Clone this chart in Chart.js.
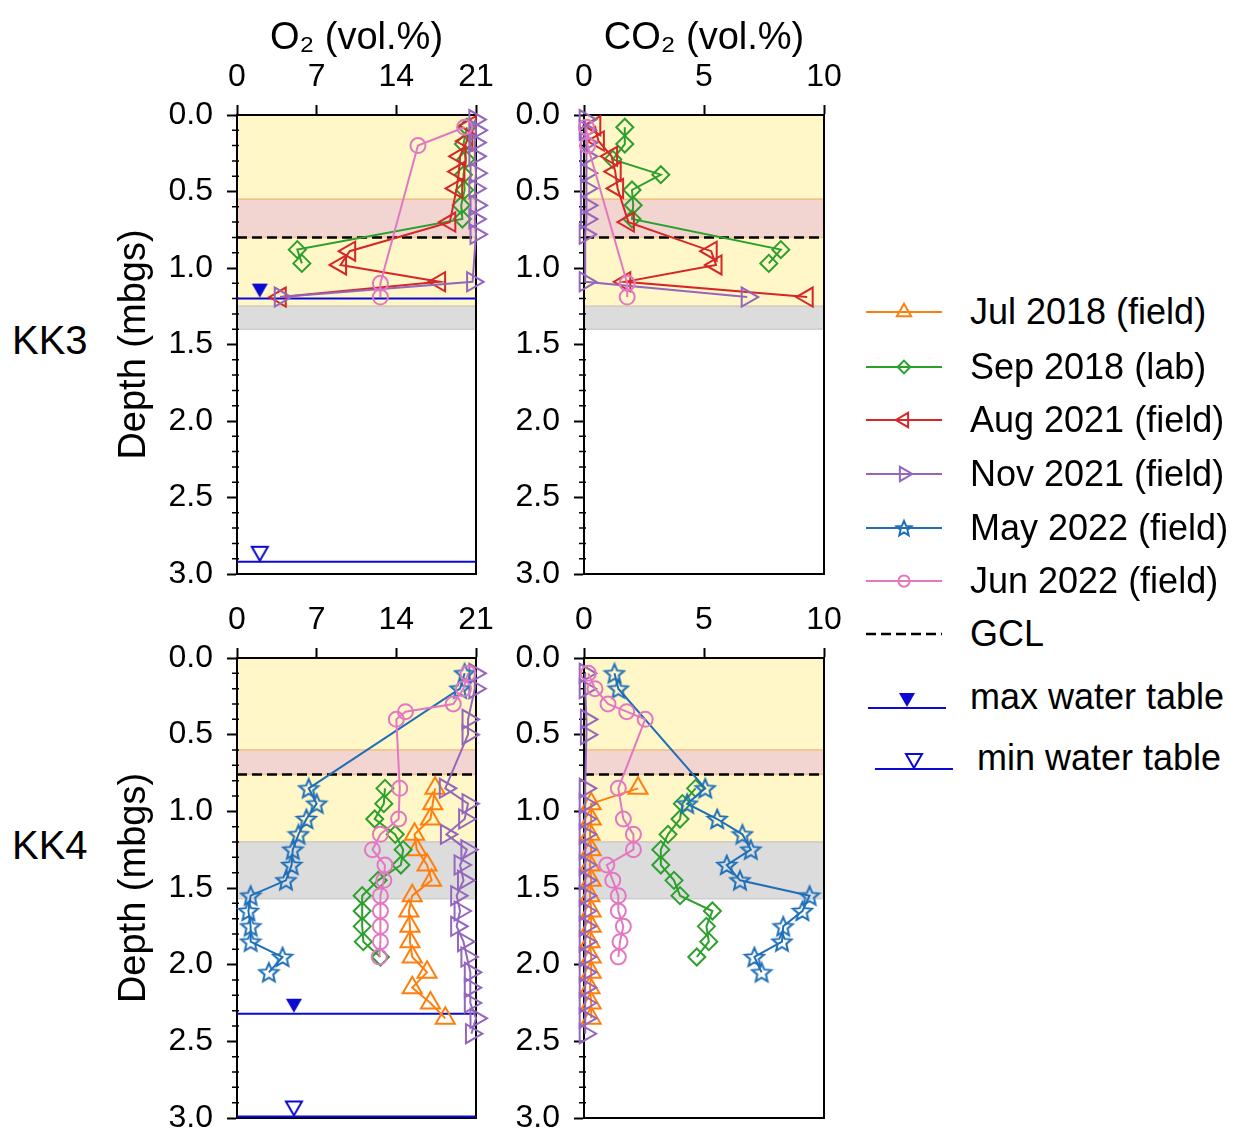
<!DOCTYPE html>
<html>
<head>
<meta charset="utf-8">
<script src="https://cdn.jsdelivr.net/npm/chart.js@4.4.1/dist/chart.umd.min.js"></script>
<style>
  body { margin: 0; background: #fff; width: 1245px; height: 1134px; position: relative; overflow: hidden;
         font-family: 'Liberation Sans', Arial, Helvetica, sans-serif; color: #000; }
  canvas.panel { position: absolute; }
  .site { position: absolute; left: 12px; font-size: 40px; line-height: 40px; }
  .leg { position: absolute; height: 40px; display: flex; align-items: center; font-size: 36px; white-space: nowrap; }
  .leg canvas { margin-right: 24px; }
</style>
</head>
<body>
<div class="site" style="top:320px">KK3</div>
<div class="site" style="top:825px">KK4</div>
<canvas class="panel" id="kk3o2"  width="406" height="610" style="left:100px;top:0px"></canvas>
<canvas class="panel" id="kk3co2" width="354" height="610" style="left:500px;top:0px"></canvas>
<canvas class="panel" id="kk4o2"  width="406" height="570" style="left:100px;top:584px"></canvas>
<canvas class="panel" id="kk4co2" width="354" height="570" style="left:500px;top:584px"></canvas>
<div id="legend"></div>
<script>
// ---------- axes ----------
const o2Range = [0, 21];
const o2Step = 7;
const co2Range = [0, 10];
const co2Step = 5;
const depthRange = [0, 3];
const depthStep = 0.5;
const depthMinorStep = 0.1;

// ---------- series ----------
const seriesKeys = ['jul18', 'sep18', 'aug21', 'nov21', 'may22', 'jun22'];
const seriesLabels = ['Jul 2018 (field)', 'Sep 2018 (lab)', 'Aug 2021 (field)',
                      'Nov 2021 (field)', 'May 2022 (field)', 'Jun 2022 (field)'];

// KK3
const kk3Sep18Depth = [0.08, 0.19, 0.29, 0.39, 0.49, 0.59, 0.68, 0.88, 0.97];
const kk3Sep18O2    = [20.2, 19.9, 20.1, 19.9, 20.0, 19.7, 19.8, 5.3, 5.7];
const kk3Sep18CO2   = [1.7, 1.7, 1.2, 3.2, 2.0, 2.05, 2.0, 8.2, 7.7];

const kk3Aug21Depth = [0.07, 0.17, 0.27, 0.37, 0.48, 0.70, 0.89, 0.98, 1.09, 1.19];
const kk3Aug21O2    = [20.5, 20.2, 19.6, 19.5, 19.3, 18.7, 9.9, 9.1, 17.8, 3.8];
const kk3Aug21CO2   = [0.45, 0.6, 1.15, 1.3, 1.4, 1.85, 5.3, 5.5, 1.7, 9.3];

const kk3Nov21Depth = [0.03, 0.10, 0.18, 0.27, 0.38, 0.48, 0.59, 0.68, 0.78, 1.09, 1.19];
const kk3Nov21O2    = [20.9, 21.0, 20.9, 20.9, 21.0, 20.9, 21.0, 20.9, 21.0, 20.7, 3.8];
const kk3Nov21CO2   = [0.05, 0.05, 0.1, 0.1, 0.1, 0.1, 0.1, 0.1, 0.05, 0.05, 6.8];

const kk3Jun22Depth = [0.08, 0.20, 1.10, 1.19];
const kk3Jun22O2    = [20.0, 15.9, 12.6, 12.6];
const kk3Jun22CO2   = [0.1, 0.15, 1.8, 1.8];

// KK4
const kk4Jul18Depth = [0.85, 0.95, 1.05, 1.15, 1.25, 1.35, 1.45, 1.55, 1.65, 1.75, 1.85, 1.95, 2.05, 2.15, 2.25, 2.35];
const kk4Jul18O2    = [17.4, 17.2, 17.0, 15.6, 15.8, 16.7, 17.1, 15.4, 15.1, 15.2, 15.2, 15.4, 16.7, 15.4, 17.0, 18.3];
const kk4Jul18CO2   = [2.25, 0.3, 0.3, 0.25, 0.3, 0.25, 0.3, 0.25, 0.3, 0.3, 0.25, 0.3, 0.3, 0.25, 0.3, 0.3];

const kk4Sep18Depth = [0.85, 0.95, 1.05, 1.15, 1.25, 1.35, 1.45, 1.55, 1.65, 1.75, 1.85, 1.95];
const kk4Sep18O2    = [13.0, 12.9, 12.1, 13.9, 14.6, 14.4, 12.4, 11.0, 11.0, 11.0, 11.1, 12.6];
const kk4Sep18CO2   = [4.65, 4.1, 4.0, 3.5, 3.2, 3.2, 3.75, 4.0, 5.35, 5.1, 5.2, 4.7];

const kk4Nov21Depth = [0.10, 0.20, 0.40, 0.50, 0.85, 0.95, 1.05, 1.15, 1.25, 1.35, 1.45, 1.55, 1.65, 1.75, 1.85, 1.95, 2.05, 2.15, 2.25, 2.35, 2.45];
const kk4Nov21O2    = [20.9, 20.9, 20.3, 20.3, 18.3, 20.3, 20.0, 18.4, 20.2, 19.6, 19.9, 19.3, 19.6, 19.3, 19.9, 20.2, 20.5, 20.5, 20.5, 21.0, 20.6];
const kk4Nov21CO2   = [0.05, 0.05, 0.1, 0.1, 0.05, 0.05, 0.05, 0.05, 0.05, 0.05, 0.05, 0.05, 0.05, 0.05, 0.05, 0.05, 0.05, 0.05, 0.05, 0.05, 0.05];

const kk4May22Depth = [0.10, 0.20, 0.85, 0.95, 1.05, 1.15, 1.25, 1.35, 1.45, 1.55, 1.65, 1.75, 1.85, 1.95, 2.05];
const kk4May22O2    = [20.0, 19.6, 6.3, 7.0, 6.1, 5.4, 4.9, 4.8, 4.3, 1.2, 1.0, 1.2, 1.2, 4.0, 2.8];
const kk4May22CO2   = [1.27, 1.43, 5.05, 4.3, 5.55, 6.6, 6.95, 5.95, 6.5, 9.4, 9.1, 8.3, 8.25, 7.1, 7.4];

const kk4Jun22Depth = [0.10, 0.20, 0.30, 0.35, 0.40, 0.85, 1.05, 1.15, 1.25, 1.35, 1.45, 1.55, 1.65, 1.75, 1.85, 1.95];
const kk4Jun22O2    = [20.3, 19.9, 19.0, 14.8, 14.0, 14.3, 14.2, 12.6, 11.9, 13.0, 12.9, 12.6, 12.6, 12.6, 12.6, 12.5];
const kk4Jun22CO2   = [0.18, 0.46, 1.0, 1.78, 2.55, 1.43, 1.64, 2.06, 2.06, 0.95, 1.2, 1.43, 1.43, 1.64, 1.5, 1.43];

// layers, GCL and water table (depth in mbgs)
const kk3LayerTop    = [0, 0.55, 0.80, 1.25];
const kk3LayerBottom = [0.55, 0.80, 1.25, 1.40];
const kk3LayerKind   = ['cover', 'liner', 'cover', 'waste'];
const kk4LayerTop    = [0, 0.60, 0.76, 1.20];
const kk4LayerBottom = [0.60, 0.76, 1.20, 1.57];
const kk4LayerKind   = ['cover', 'liner', 'cover', 'waste'];
const kk3Gcl = 0.80;
const kk4Gcl = 0.76;
const kk3WaterDepth = [1.20, 2.92];   // max, min
const kk3WaterMarkO2 = [2, 2];
const kk4WaterDepth = [2.32, 2.99];
const kk4WaterMarkO2 = [5, 5];

// ---------- styles ----------
const FONT = "'Liberation Sans', Arial, Helvetica, sans-serif";
Chart.defaults.font.family = FONT;
Chart.defaults.color = '#000';

const seriesColor = { jul18: '#ff7f0e', sep18: '#2ca02c', aug21: '#d62728',
                      nov21: '#9467bd', may22: '#1f6fb8', jun22: '#e377c2' };
const waterColor = '#0a0ad2';
const layerFill = { cover: '#fff7c8', liner: '#f2d5d0', waste: '#dcdcdc' };
const layerEdge = { cover: 'rgba(243,196,140,0.8)', liner: 'rgba(243,190,130,0.9)', waste: 'rgba(200,200,200,0.8)' };

function starImage(color, r) {
  const s = Math.ceil(2 * r + 4);
  const c = document.createElement('canvas');
  c.width = s; c.height = s;
  const g = c.getContext('2d');
  g.strokeStyle = color; g.lineWidth = 2;
  g.beginPath();
  for (let i = 0; i < 10; i++) {
    const rr = i % 2 ? r * 0.45 : r;
    const a = -Math.PI / 2 + i * Math.PI / 5;
    const px = s / 2 + rr * Math.cos(a), py = s / 2 + rr * Math.sin(a) + 0.8;
    if (i) g.lineTo(px, py); else g.moveTo(px, py);
  }
  g.closePath(); g.stroke();
  return c;
}

// triangle sitting on top of the water line (image is centred on the line)
function waterMarkImage(filled) {
  const c = document.createElement('canvas');
  c.width = 20; c.height = 36;
  const g = c.getContext('2d');
  g.beginPath();
  g.moveTo(2, 3); g.lineTo(18, 3); g.lineTo(10, 17); g.closePath();
  if (filled) { g.fillStyle = waterColor; g.fill(); }
  else { g.strokeStyle = waterColor; g.lineWidth = 2; g.stroke(); }
  return c;
}

const markerStyle = {
  jul18: { shape: 'triangle', rotation: 0, radius: 11, order: 8 },
  sep18: { shape: 'rectRot', rotation: 0, radius: 8.5, order: 7 },
  aug21: { shape: 'triangle', rotation: 270, radius: 11, order: 6 },
  nov21: { shape: 'triangle', rotation: 90, radius: 11, order: 5 },
  may22: { shape: starImage(seriesColor.may22, 10), rotation: 0, radius: 10, order: 4 },
  jun22: { shape: 'circle', rotation: 0, radius: 7.5, order: 3 },
};
const waterImgs = [waterMarkImage(true), waterMarkImage(false)];

function pts(depth, vals) {
  return depth.map((d, i) => ({ x: vals[i], y: d }));
}

function framePlugin(layers) {
  return {
    id: 'frame',
    beforeDatasetsDraw(chart) {
      const { ctx, chartArea: a, scales: { y } } = chart;
      ctx.save();
      layers.top.forEach((t, i) => {
        const y0 = y.getPixelForValue(t), y1 = y.getPixelForValue(layers.bottom[i]);
        const kind = layers.kind[i];
        ctx.fillStyle = layerFill[kind];
        ctx.fillRect(a.left, y0, a.right - a.left, y1 - y0);
        ctx.strokeStyle = layerEdge[kind];
        ctx.lineWidth = 1.5;
        ctx.beginPath();
        ctx.moveTo(a.left, y0); ctx.lineTo(a.right, y0);
        ctx.moveTo(a.left, y1); ctx.lineTo(a.right, y1);
        ctx.stroke();
      });
      // minor depth ticks
      ctx.strokeStyle = '#000';
      ctx.lineWidth = 1.5;
      ctx.beginPath();
      const n = Math.round((depthRange[1] - depthRange[0]) / depthMinorStep);
      const every = Math.round(depthStep / depthMinorStep);
      for (let i = 0; i <= n; i++) {
        if (i % every === 0) continue;
        const py = y.getPixelForValue(depthRange[0] + i * depthMinorStep);
        ctx.moveTo(a.left - 5, py); ctx.lineTo(a.left + 2, py);
      }
      ctx.stroke();
      ctx.lineWidth = 2;
      ctx.strokeRect(a.left, a.top, a.right - a.left, a.bottom - a.top);
      ctx.restore();
    }
  };
}

function makePanel(id, p) {
  const [xMin, xMax] = p.xRange;
  const datasets = [];
  datasets.push({
    label: 'GCL', data: [{ x: xMin, y: p.gcl }, { x: xMax, y: p.gcl }],
    showLine: true, borderColor: '#000', borderWidth: 2.5, borderDash: [10, 5],
    pointRadius: 0, order: 20, clip: false
  });
  if (p.water) {
    p.water.depth.forEach((d, i) => {
      datasets.push({
        label: i ? 'min water table' : 'max water table',
        data: [{ x: xMin, y: d }, { x: xMax, y: d }],
        showLine: true, borderColor: waterColor, borderWidth: 2, pointRadius: 0, order: 18, clip: false
      });
      datasets.push({
        label: 'marker', data: [{ x: p.water.markX[i], y: d }],
        showLine: false, pointStyle: waterImgs[i], pointRadius: 10, order: 18, clip: false
      });
    });
  }
  p.series.forEach(([key, depth, vals]) => {
    const st = markerStyle[key];
    datasets.push({
      label: seriesLabels[seriesKeys.indexOf(key)],
      data: pts(depth, vals),
      showLine: true,
      borderColor: seriesColor[key], borderWidth: 2,
      pointStyle: st.shape, pointRotation: st.rotation, pointRadius: st.radius,
      pointBorderWidth: 2, pointBorderColor: seriesColor[key],
      pointBackgroundColor: 'rgba(0,0,0,0)',
      order: st.order, clip: false
    });
  });

  const tickFont = { size: 32, family: FONT };
  const titleFont = { size: 38, family: FONT };
  new Chart(document.getElementById(id), {
    type: 'scatter',
    data: { datasets },
    options: {
      responsive: false, animation: false, devicePixelRatio: 1, events: [],
      layout: { padding: { left: 0, top: 0, right: 30, bottom: 36 } },
      plugins: { legend: { display: false }, tooltip: { enabled: false } },
      scales: {
        x: {
          type: 'linear', position: 'top', min: xMin, max: xMax,
          ticks: { stepSize: p.xStep, font: tickFont, color: '#000', padding: 9, maxRotation: 0, autoSkip: false },
          grid: { drawOnChartArea: false, tickLength: 10, tickWidth: 2, tickColor: '#000' },
          border: { display: true, color: '#000', width: 2 },
          title: { display: !!p.xTitle, text: p.xTitle || '', font: titleFont, color: '#000', padding: { top: 16, bottom: 0 } },
          afterFit(s) { s.height = p.xH; }
        },
        y: {
          type: 'linear', reverse: true, min: depthRange[0], max: depthRange[1],
          ticks: { stepSize: depthStep, font: tickFont, color: '#000', padding: 14, callback: v => v.toFixed(1) },
          grid: { drawOnChartArea: false, tickLength: 10, tickWidth: 2, tickColor: '#000' },
          border: { display: true, color: '#000', width: 2 },
          title: { display: !!p.yTitle, text: p.yTitle || '', font: titleFont, color: '#000', padding: { top: 12, bottom: 0 } },
          afterFit(s) { s.width = p.yW; }
        }
      }
    },
    plugins: [framePlugin(p.layers)]
  });
}

const kk3Layers = { top: kk3LayerTop, bottom: kk3LayerBottom, kind: kk3LayerKind };
const kk4Layers = { top: kk4LayerTop, bottom: kk4LayerBottom, kind: kk4LayerKind };

makePanel('kk3o2', {
  xRange: o2Range, xStep: o2Step, xTitle: 'O\u2082 (vol.%)', yTitle: 'Depth (mbgs)', xH: 115, yW: 137,
  layers: kk3Layers, gcl: kk3Gcl, water: { depth: kk3WaterDepth, markX: kk3WaterMarkO2 },
  series: [['sep18', kk3Sep18Depth, kk3Sep18O2], ['aug21', kk3Aug21Depth, kk3Aug21O2],
           ['nov21', kk3Nov21Depth, kk3Nov21O2], ['jun22', kk3Jun22Depth, kk3Jun22O2]]
});
makePanel('kk3co2', {
  xRange: co2Range, xStep: co2Step, xTitle: 'CO\u2082 (vol.%)', xH: 115, yW: 84,
  layers: kk3Layers, gcl: kk3Gcl,
  series: [['sep18', kk3Sep18Depth, kk3Sep18CO2], ['aug21', kk3Aug21Depth, kk3Aug21CO2],
           ['nov21', kk3Nov21Depth, kk3Nov21CO2], ['jun22', kk3Jun22Depth, kk3Jun22CO2]]
});
makePanel('kk4o2', {
  xRange: o2Range, xStep: o2Step, yTitle: 'Depth (mbgs)', xH: 74, yW: 137,
  layers: kk4Layers, gcl: kk4Gcl, water: { depth: kk4WaterDepth, markX: kk4WaterMarkO2 },
  series: [['jul18', kk4Jul18Depth, kk4Jul18O2], ['sep18', kk4Sep18Depth, kk4Sep18O2],
           ['nov21', kk4Nov21Depth, kk4Nov21O2], ['may22', kk4May22Depth, kk4May22O2],
           ['jun22', kk4Jun22Depth, kk4Jun22O2]]
});
makePanel('kk4co2', {
  xRange: co2Range, xStep: co2Step, xH: 74, yW: 84,
  layers: kk4Layers, gcl: kk4Gcl,
  series: [['jul18', kk4Jul18Depth, kk4Jul18CO2], ['sep18', kk4Sep18Depth, kk4Sep18CO2],
           ['nov21', kk4Nov21Depth, kk4Nov21CO2], ['may22', kk4May22Depth, kk4May22CO2],
           ['jun22', kk4Jun22Depth, kk4Jun22CO2]]
});

// ---------- legend ----------
const legendRowY = [312, 367, 420, 474, 528, 581, 634, 697, 758];
const legendStar = starImage(seriesColor.may22, 8);

function drawSeriesSymbol(g, key) {
  const c = seriesColor[key], st = markerStyle[key];
  g.strokeStyle = c; g.lineWidth = 2;
  g.beginPath(); g.moveTo(4, 20); g.lineTo(80, 20); g.stroke();
  const cx = 42, cy = 20;
  if (key === 'may22') { g.drawImage(legendStar, cx - legendStar.width / 2, cy - legendStar.height / 2); return; }
  const r = st.radius * 0.75;
  g.beginPath();
  if (st.shape === 'circle') g.arc(cx, cy, r, 0, Math.PI * 2);
  else if (st.shape === 'rectRot') { g.moveTo(cx, cy - r); g.lineTo(cx + r, cy); g.lineTo(cx, cy + r); g.lineTo(cx - r, cy); g.closePath(); }
  else {
    let a = st.rotation * Math.PI / 180;
    for (let k = 0; k < 3; k++) {
      const px = cx + Math.sin(a) * r, py = cy - Math.cos(a) * r;
      if (k) g.lineTo(px, py); else g.moveTo(px, py);
      a += 2 * Math.PI / 3;
    }
    g.closePath();
  }
  g.stroke();
}

const legendEl = document.getElementById('legend');
function addRow(idx, text, draw, dx) {
  const row = document.createElement('div');
  row.className = 'leg';
  row.style.top = (legendRowY[idx] - 20) + 'px';
  row.style.left = (862 + (dx || 0)) + 'px';
  const cv = document.createElement('canvas');
  cv.width = 84; cv.height = 40;
  draw(cv.getContext('2d'));
  row.appendChild(cv);
  row.appendChild(document.createTextNode(text));
  legendEl.appendChild(row);
}
seriesKeys.forEach((k, i) => addRow(i, seriesLabels[i], g => drawSeriesSymbol(g, k)));
addRow(6, 'GCL', g => {
  g.strokeStyle = '#000'; g.lineWidth = 2.5; g.setLineDash([10, 5]);
  g.beginPath(); g.moveTo(4, 20); g.lineTo(80, 20); g.stroke();
});
[0, 1].forEach(i => addRow(7 + i, i ? 'min water table' : 'max water table', g => {
  g.strokeStyle = waterColor; g.lineWidth = 2;
  g.beginPath(); g.moveTo(6, 31); g.lineTo(84, 31); g.stroke();
  g.drawImage(waterImgs[i], 45 - 10, 31 - 18);
}, i ? 7 : 0));
</script>
</body>
</html>
